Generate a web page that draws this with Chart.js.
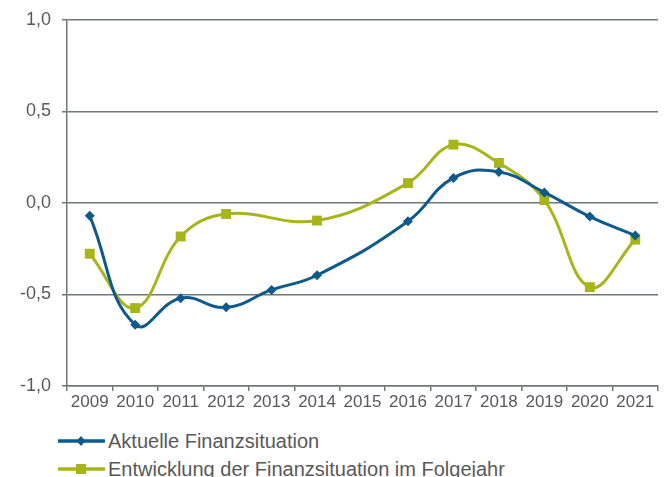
<!DOCTYPE html>
<html>
<head>
<meta charset="utf-8">
<script src="https://cdn.jsdelivr.net/npm/chart.js@4.4.1/dist/chart.umd.min.js"></script>
<style>
  body { margin: 0; background: #fff; font-family: "Liberation Sans", Arial, sans-serif; }
  #wrap { position: relative; width: 666px; height: 477px; }
  #chartBox { position: absolute; left: 0; top: 0; width: 666px; height: 415px; }
  .legend-row { position: absolute; left: 58px; height: 24px; display: flex; align-items: center; white-space: nowrap; color: #595959; font-size: 20px; }
  .legend-row svg { margin-right: 3px; }
</style>
</head>
<body>
<div id="wrap">
  <div id="chartBox"><canvas id="finanzChart"></canvas></div>
  <div class="legend-row" id="leg1" style="top:429px"></div>
  <div class="legend-row" id="leg2" style="top:457px"></div>
</div>
<script>
const years = ["2009", "2010", "2011", "2012", "2013", "2014", "2015", "2016", "2017", "2018", "2019", "2020", "2021"];
const aktuelle = [-0.07, -0.665, -0.52, -0.57, -0.475, -0.395, null, -0.10, 0.137, 0.17, 0.058, -0.074, -0.178];
const folgejahr = [-0.277, -0.574, -0.183, -0.06, null, -0.096, null, 0.109, 0.319, 0.219, 0.016, -0.46, -0.20];
const yTicks = [-1.0, -0.5, 0.0, 0.5, 1.0];

const blue = "#0e5a8a";
const green = "#a7b51b";
const gridGray = "#71767b";
const textGray = "#595959";

document.addEventListener("DOMContentLoaded", () => {
  new Chart(document.getElementById("finanzChart"), {
    type: "line",
    data: {
      labels: years,
      datasets: [
        {
          label: "Aktuelle Finanzsituation",
          data: aktuelle,
          borderColor: blue,
          backgroundColor: blue,
          borderWidth: 3,
          pointStyle: "rectRot",
          pointRadius: 5,
          pointBorderWidth: 0,
          tension: 0.45,
          spanGaps: true,
          fill: false
        },
        {
          label: "Entwicklung der Finanzsituation im Folgejahr",
          data: folgejahr,
          borderColor: green,
          backgroundColor: green,
          borderWidth: 3,
          pointStyle: "rect",
          pointRadius: 7,
          pointBorderWidth: 0,
          tension: 0.4,
          spanGaps: true,
          fill: false
        }
      ]
    },
    options: {
      responsive: true,
      maintainAspectRatio: false,
      animation: false,
      layout: { padding: { left: 0, right: 8, top: 18, bottom: 0 } },
      plugins: {
        legend: { display: false },
        tooltip: { enabled: false }
      },
      scales: {
        x: {
          type: "category",
          offset: true,
          afterFit: (scale) => { scale.height = 29; },
          grid: {
            offset: true,
            drawOnChartArea: false,
            drawTicks: true,
            tickLength: 5,
            color: gridGray,
            lineWidth: 1.5
          },
          border: { display: true, color: gridGray, width: 1.5 },
          ticks: {
            color: textGray,
            font: { family: "Liberation Sans", size: 17 },
            padding: 1,
            maxRotation: 0,
            autoSkip: false
          }
        },
        y: {
          min: -1,
          max: 1,
          afterFit: (scale) => { scale.width = 67; },
          afterBuildTicks: (scale) => { scale.ticks = yTicks.map(v => ({ value: v })); },
          grid: {
            color: gridGray,
            lineWidth: 1.5,
            drawTicks: true,
            tickLength: 5
          },
          border: { display: true, color: gridGray, width: 1.5 },
          ticks: {
            color: textGray,
            font: { family: "Liberation Sans", size: 18, lineHeight: 1 },
            padding: 11,
            callback: (v) => Number(v).toFixed(1).replace(".", ",")
          }
        }
      }
    }
  });

  // legend rows: line with marker, then label
  function legendIcon(color, shape) {
    const marker = shape === "diamond"
      ? `<polygon points="23,6 27.5,11 23,16 18.5,11" fill="${color}"/>`
      : `<rect x="18" y="6" width="10" height="10" fill="${color}"/>`;
    return `<svg width="47" height="22" viewBox="0 0 47 22"><line x1="1" y1="11" x2="46" y2="11" stroke="${color}" stroke-width="3.5" stroke-linecap="round"/>${marker}</svg>`;
  }
  document.getElementById("leg1").innerHTML = legendIcon(blue, "diamond") + "<span>Aktuelle Finanzsituation</span>";
  document.getElementById("leg2").innerHTML = legendIcon(green, "square") + "<span>Entwicklung der Finanzsituation im Folgejahr</span>";
});
</script>
</body>
</html>
